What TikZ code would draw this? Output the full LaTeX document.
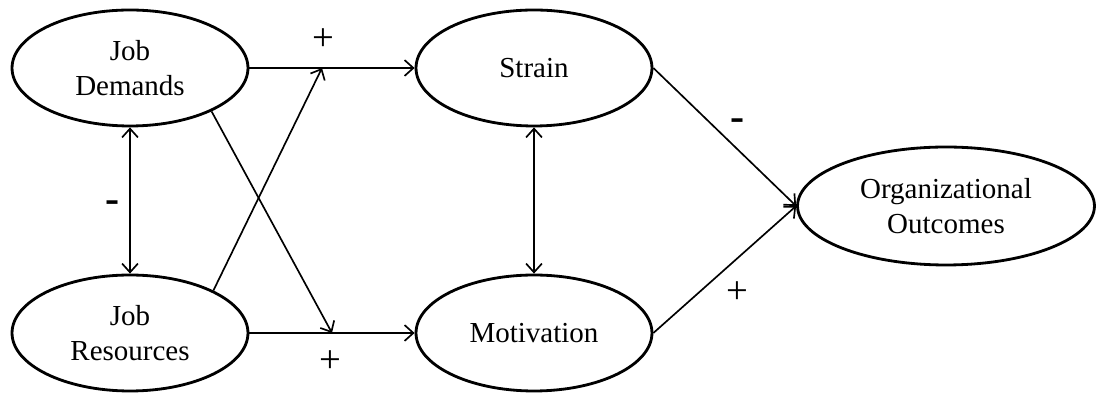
\documentclass[tikz,border=0pt]{standalone}
\usepackage{fontspec}
\setmainfont{Liberation Serif}
\usetikzlibrary{arrows.meta, positioning, shapes.geometric}

\begin{document}
\begin{tikzpicture}[x=0.02cm, y=-0.02cm,
    every node/.style={font=\fontsize{16.5}{20}\selectfont},
    var/.style={draw, ellipse, line width=1.6pt, minimum width=4.72cm,
      minimum height=2.32cm, inner sep=0pt, align=center},
    link/.style={-{Straight Barb[length=5pt, width=9pt]}, line width=0.95pt},
    both/.style={{Straight Barb[length=5pt, width=9pt]}-{Straight Barb[length=5pt, width=9pt]}, line width=0.95pt},
    plus/.style={font=\fontsize{22}{22}\selectfont},
    sign/.style={font=\fontsize{24}{24}\selectfont\bfseries}]
      \useasboundingbox (0,0) rectangle (1096,394);
      % Antecedents
      \node[var] (jd) at (130,68) {Job\\Demands};
      \node[var] (jr) at (130,333) {Job\\Resources};
      % Mediators
      \node[var] (strain) at (534,68) {Strain};
      \node[var] (motiv) at (534,333) {Motivation};
      % Outcome
      \node[var, minimum width=5.94cm, minimum height=2.36cm] (oo) at (946,206) {Organizational\\Outcomes};
      % Main paths
      \coordinate (jdjoin) at (322,68);
      \coordinate (jrjoin) at (332,333);
      \draw[link] (jd.east) -- (strain.west);
      \draw[link] (jr.east) -- (motiv.west);
      \draw[link] (jr.27) -- (jdjoin);
      \draw[link] (jd.-28) -- (jrjoin);
      \draw[link] (strain.east) -- (oo.west);
      \draw[link] (motiv.east) -- (oo.west);
      % Correlations
      \draw[both] (jd.south) -- (jr.north);
      \draw[both] (strain.south) -- (motiv.north);
      % Signs
      \node[plus] (p1) at (323,40) {+};
      \node[plus] (p2) at (330,362) {+};
      \node[plus] (p3) at (737,293) {+};
      \node[sign] (m1) at (113,207) {-};
      \node[sign] (m2) at (738,125) {-};
\end{tikzpicture}
\end{document}
